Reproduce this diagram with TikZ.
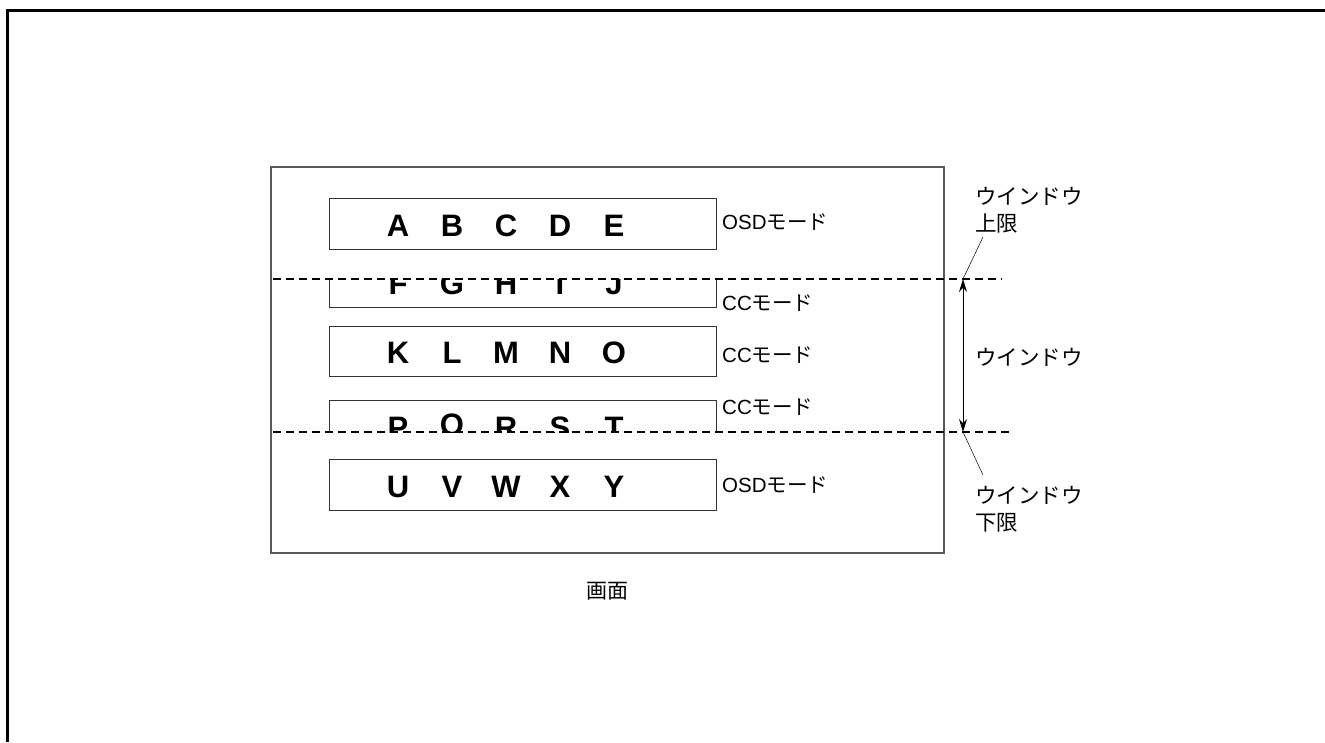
\documentclass[tikz,border=0pt]{standalone}
\usepackage{fontspec}
\setmainfont{Liberation Sans}
\newfontfamily\jp{Noto Sans CJK JP}
\usetikzlibrary{arrows.meta}

\tikzset{
  rowbox/.style={draw=black!80, line width=1pt, minimum width=387pt, minimum height=51pt, inner sep=0pt},
  letter/.style={font=\fontsize{31}{36}\selectfont\bfseries, inner sep=0pt},
  modelabel/.style={anchor=west, font=\fontsize{20.5}{24}\selectfont, inner sep=0pt},
  sidelabel/.style={anchor=north west, align=left, font=\fontsize{21.5}{27}\selectfont\jp, inner sep=0pt},
  limit/.style={dashed, dash pattern=on 8pt off 5pt, line width=1.7pt},
}

\begin{document}
\begin{tikzpicture}[x=1pt, y=-1pt]
    \useasboundingbox (0,0) rectangle (1325,742);

    % Outer frame — top and left only
    \draw[line width=3pt] (7,742) -- (7,10) -- (1325,10);

    % Screen
    \node[draw=black!65, line width=1.2pt, minimum width=673pt, minimum height=386pt, inner sep=0pt]
        (screen) at (607.5,360) {};
    \node[font=\fontsize{21}{24}\selectfont\jp] (screenlabel) at (607,591) {画面};

    % Character rows
    \node[rowbox] (row1) at (522.5,223.5) {};
    \begin{scope}
        \clip (300,279) rectangle (760,320);
        \node[rowbox] (row2) at (522.5,281.5) {};
    \end{scope}
    \node[rowbox, minimum height=50pt] (row3) at (522.5,351) {};
    \begin{scope}
        \clip (300,390) rectangle (760,432);
        \node[rowbox] (row4) at (522.5,425.5) {};
    \end{scope}
    \node[rowbox] (row5) at (522.5,484.5) {};

    \foreach \ch [count=\i from 0] in {A,B,C,D,E}
        \node[letter] (a\i) at (398+54*\i,225.5) {\ch};
    \begin{scope}
        \clip (300,279) rectangle (760,320);
        \foreach \ch [count=\i from 0] in {F,G,H,I,J}
            \node[letter] (f\i) at (398+54*\i,283.5) {\ch};
    \end{scope}
    \foreach \ch [count=\i from 0] in {K,L,M,N,O}
        \node[letter] (k\i) at (398+54*\i,352.5) {\ch};
    \begin{scope}
        \clip (300,390) rectangle (760,432);
        \foreach \ch [count=\i from 0] in {P,Q,R,S,T}
            \node[letter] (p\i) at (398+54*\i,427.5) {\ch};
    \end{scope}
    \foreach \ch [count=\i from 0] in {U,V,W,X,Y}
        \node[letter] (u\i) at (398+54*\i,486.5) {\ch};

    % Mode labels
    \node[modelabel] (mode1) at (722,222) {OSD\jp モード};
    \node[modelabel] (mode2) at (722,303) {CC\jp モード};
    \node[modelabel] (mode3) at (722,355) {CC\jp モード};
    \node[modelabel] (mode4) at (722,407) {CC\jp モード};
    \node[modelabel] (mode5) at (722,485) {OSD\jp モード};

    % Window limits
    \coordinate (topL) at (273,279);
    \coordinate (topR) at (1002,279);
    \coordinate (botL) at (273,432);
    \coordinate (botR) at (1012,432);
    \coordinate (topM) at (963,279);
    \coordinate (botM) at (963,432);
    \draw[limit] (topL) -- (topR);
    \draw[limit] (botL) -- (botR);
    \draw[{Stealth[length=13pt,width=8pt]}-{Stealth[length=13pt,width=8pt]}, line width=1pt]
        (topM) -- (botM);

    \node[sidelabel] (upper) at (975,187) {ウインドウ\\上限};
    \node[sidelabel, anchor=west] (window) at (975,357) {ウインドウ};
    \node[sidelabel] (lower) at (975,486) {ウインドウ\\下限};
    \draw[line width=0.5pt] (topM) -- (983,237);
    \draw[line width=0.5pt] (botM) -- (983,475);
\end{tikzpicture}
\end{document}
